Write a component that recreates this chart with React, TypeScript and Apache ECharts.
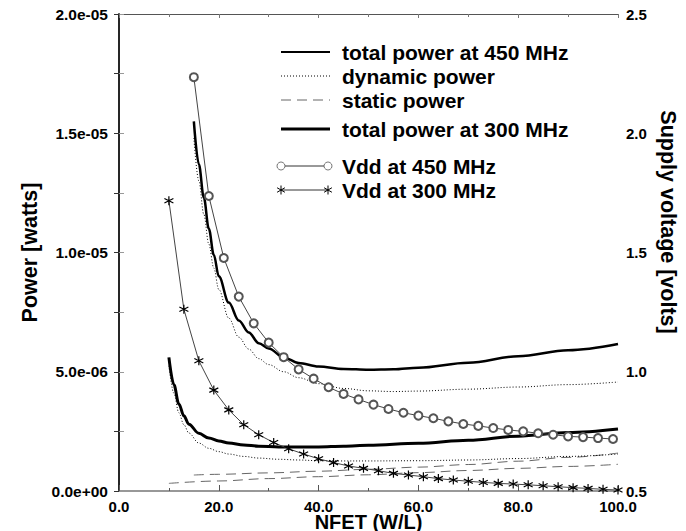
import React, { useEffect, useRef } from "react";
import * as echarts from "echarts";

// ---- Data (power values in units of 1e-6 W, voltages in V) ----
const x450 = [15, 16, 17, 18, 19, 20, 22, 24, 26, 28, 30, 33, 36, 40, 45, 50, 55, 60, 70, 80, 90, 100];
const total450 = [15.5, 13.7, 12.3, 11.0, 9.9, 9.0, 7.9, 7.15, 6.65, 6.2, 5.98, 5.6, 5.37, 5.22, 5.12, 5.08, 5.1, 5.17, 5.38, 5.65, 5.9, 6.16];
const dynamic450 = [14.8, 13.0, 11.6, 10.35, 9.35, 8.45, 7.25, 6.45, 5.95, 5.55, 5.3, 5.0, 4.75, 4.5, 4.3, 4.2, 4.17, 4.19, 4.27, 4.36, 4.46, 4.57];

const xStatic450 = [15, 20, 30, 40, 50, 60, 70, 80, 90, 100];
const static450 = [0.67, 0.7, 0.76, 0.83, 0.91, 1.0, 1.11, 1.25, 1.41, 1.59];

const x300 = [10, 11, 12, 13, 14, 16, 18, 20, 22, 25, 28, 32, 36, 40, 45, 50, 60, 70, 80, 90, 100];
const total300 = [5.6, 4.45, 3.65, 3.15, 2.8, 2.42, 2.22, 2.1, 2.01, 1.93, 1.88, 1.85, 1.84, 1.85, 1.88, 1.92, 2.0, 2.13, 2.3, 2.45, 2.6];
const dynamic300 = [5.25, 4.1, 3.28, 2.78, 2.43, 2.01, 1.79, 1.65, 1.55, 1.45, 1.38, 1.33, 1.3, 1.27, 1.26, 1.26, 1.27, 1.3, 1.36, 1.45, 1.55];

const xStatic300 = [10, 20, 30, 40, 50, 60, 70, 80, 90, 100];
const static300 = [0.32, 0.42, 0.52, 0.6, 0.68, 0.77, 0.86, 0.95, 1.03, 1.12];

const xVdd450 = [15, 18, 21, 24, 27, 30, 33, 36, 39, 42, 45, 48, 51, 54, 57, 60, 63, 66, 69, 72, 75, 78, 81, 84, 87, 90, 93, 96, 99];
const vdd450 = [2.235, 1.737, 1.477, 1.315, 1.203, 1.122, 1.061, 1.01, 0.971, 0.935, 0.907, 0.884, 0.862, 0.844, 0.828, 0.816, 0.805, 0.792, 0.781, 0.773, 0.764, 0.756, 0.75, 0.742, 0.736, 0.729, 0.726, 0.722, 0.718];

const xVdd300 = [10, 13, 16, 19, 22, 25, 28, 31, 34, 37, 40, 43, 46, 49, 52, 55, 58, 61, 64, 67, 70, 73, 76, 79, 82, 85, 88, 91, 94, 97, 100];
const vdd300 = [1.717, 1.262, 1.046, 0.923, 0.84, 0.778, 0.736, 0.703, 0.677, 0.655, 0.635, 0.619, 0.605, 0.595, 0.585, 0.574, 0.567, 0.56, 0.552, 0.546, 0.541, 0.536, 0.532, 0.529, 0.526, 0.522, 0.518, 0.514, 0.511, 0.507, 0.504];

const xTicks = { min: 0, max: 100, interval: 20 };
const powerTicks = { min: 0, max: 2e-5, interval: 5e-6 };
const voltTicks = { min: 0.5, max: 2.5, interval: 0.5 };

const legendLabels = [
  "total power at 450 MHz",
  "dynamic power",
  "static power",
  "total power at 300 MHz",
  "Vdd at 450 MHz",
  "Vdd at 300 MHz",
];

const FONT = "'Liberation Sans', Arial, Helvetica, sans-serif";

const pw = (xs: number[], ys: number[]) => xs.map((x, i) => [x, ys[i] * 1e-6]);
const pv = (xs: number[], ys: number[]) => xs.map((x, i) => [x, ys[i]]);

const expFmt = (v: number) => {
  const [m, e] = v.toExponential(1).split("e");
  const n = parseInt(e, 10);
  return m + "e" + (n < 0 ? "-" : "+") + String(Math.abs(n)).padStart(2, "0");
};

const STAR = "path://M5,0L5,10M0.67,2.5L9.33,7.5M0.67,7.5L9.33,2.5";

export default function App() {
  const ref = useRef<HTMLDivElement>(null);

  useEffect(() => {
    if (!ref.current) return;
    const chart = echarts.init(ref.current, undefined, { renderer: "svg" });

    const lx1 = 281;
    const lx2 = 330;
    const rows = [52, 76, 100, 129, 166, 190];
    const star = (cx: number, cy: number) =>
      [0, Math.PI / 3, -Math.PI / 3].map((a) => ({
        type: "line",
        shape: {
          x1: cx + 4.5 * Math.sin(a),
          y1: cy - 4.5 * Math.cos(a),
          x2: cx - 4.5 * Math.sin(a),
          y2: cy + 4.5 * Math.cos(a),
        },
        style: { stroke: "#000", lineWidth: 1 },
      }));

    const legendGraphics: any[] = [
      { type: "line", shape: { x1: lx1, y1: rows[0], x2: lx2, y2: rows[0] }, style: { stroke: "#000", lineWidth: 2 } },
      { type: "line", shape: { x1: lx1, y1: rows[1], x2: lx2, y2: rows[1] }, style: { stroke: "#000", lineWidth: 1, lineDash: [1, 2] } },
      { type: "line", shape: { x1: lx1, y1: rows[2], x2: lx2, y2: rows[2] }, style: { stroke: "#666", lineWidth: 1, lineDash: [10, 6] } },
      { type: "line", shape: { x1: lx1, y1: rows[3], x2: lx2, y2: rows[3] }, style: { stroke: "#000", lineWidth: 3 } },
      { type: "line", shape: { x1: lx1 + 4, y1: rows[4], x2: lx2 - 6, y2: rows[4] }, style: { stroke: "#333", lineWidth: 1 } },
      { type: "circle", shape: { cx: lx1, cy: rows[4], r: 4 }, style: { stroke: "#555", fill: "#fff", lineWidth: 0.8 } },
      { type: "circle", shape: { cx: lx2 - 2, cy: rows[4], r: 4 }, style: { stroke: "#555", fill: "#fff", lineWidth: 0.8 } },
      { type: "line", shape: { x1: lx1, y1: rows[5], x2: lx2 - 2, y2: rows[5] }, style: { stroke: "#333", lineWidth: 1 } },
      ...star(lx1, rows[5]),
      ...star(lx2 - 2, rows[5]),
      ...legendLabels.map((t, i) => ({
        type: "text",
        x: 342,
        y: rows[i],
        style: {
          text: t,
          fontFamily: FONT,
          fontSize: 21,
          fontWeight: "bold",
          fill: "#000",
          verticalAlign: "middle",
          align: "left",
        },
      })),
      {
        type: "text",
        x: 668,
        y: 222,
        rotation: -Math.PI / 2,
        style: {
          text: "Supply voltage [volts]",
          fontFamily: FONT,
          fontSize: 21.5,
          fontWeight: "bold",
          fill: "#000",
          align: "center",
          verticalAlign: "middle",
        },
      },
    ];

    const labelStyle = { fontFamily: FONT, fontSize: 15, fontWeight: "bold" as const, color: "#000" };
    const nameStyle = { fontFamily: FONT, fontSize: 20, fontWeight: "bold" as const, color: "#000" };

    const powerLine = (name: string, data: number[][], style: any) => ({
      name,
      type: "line",
      xAxisIndex: 0,
      yAxisIndex: 0,
      data,
      showSymbol: false,
      symbol: "none",
      smooth: 0.35,
      smoothMonotone: "x",
      lineStyle: style,
      z: 2,
    });

    chart.setOption({
      animation: false,
      backgroundColor: "#fff",
      grid: { left: 119, right: 68, top: 14, bottom: 40, containLabel: false, outerBoundsMode: "none" },
      xAxis: [
        {
          type: "value",
          position: "bottom",
          ...xTicks,
          name: "NFET (W/L)",
          nameLocation: "middle",
          nameGap: 21,
          nameMoveOverlap: false,
          nameTextStyle: nameStyle,
          axisLine: { show: true, lineStyle: { color: "#777", width: 1.5 } },
          axisTick: { show: true, inside: true, length: 6, lineStyle: { color: "#555" } },
          minorTick: { show: true, splitNumber: 2, length: 3, lineStyle: { color: "#555" } },
          axisLabel: { ...labelStyle, margin: 8, formatter: (v: number) => v.toFixed(1) },
          splitLine: { show: false },
        },
        {
          type: "value",
          position: "top",
          ...xTicks,
          axisLine: { show: true, lineStyle: { color: "#555", width: 1 } },
          axisTick: { show: true, inside: true, length: 4, lineStyle: { color: "#777" } },
          minorTick: { show: true, splitNumber: 2, length: 3, lineStyle: { color: "#777" } },
          axisLabel: { show: false },
          splitLine: { show: false },
        },
      ],
      yAxis: [
        {
          type: "value",
          position: "left",
          ...powerTicks,
          name: "Power [watts]",
          nameLocation: "middle",
          nameGap: 78,
          nameMoveOverlap: false,
          nameRotate: 90,
          nameTextStyle: { ...nameStyle, fontSize: 21.5 },
          axisLine: { show: true, lineStyle: { color: "#999", width: 2 } },
          axisTick: { show: true, inside: true, length: 5, lineStyle: { color: "#999" } },
          minorTick: { show: true, splitNumber: 2, length: 5, lineStyle: { color: "#999" } },
          axisLabel: { ...labelStyle, fontSize: 15.5, margin: 11, formatter: expFmt },
          splitLine: { show: false },
        },
        {
          type: "value",
          position: "right",
          ...voltTicks,
          axisLine: { show: true, lineStyle: { color: "#000", width: 1.5 } },
          axisTick: { show: true, inside: true, length: 5, lineStyle: { color: "#333" } },
          minorTick: { show: true, splitNumber: 2, length: 5, lineStyle: { color: "#333" } },
          axisLabel: { ...labelStyle, fontSize: 15, margin: 8, formatter: (v: number) => v.toFixed(1) },
          splitLine: { show: false },
        },
      ],
      graphic: legendGraphics,
      series: [
        powerLine("total power at 450 MHz", pw(x450, total450), { color: "#000", width: 2.5 }),
        powerLine("dynamic power (450 MHz)", pw(x450, dynamic450), { color: "#000", width: 1, type: [1, 2] }),
        powerLine("static power (450 MHz)", pw(xStatic450, static450), { color: "#666", width: 1, type: [10, 6] }),
        powerLine("total power at 300 MHz", pw(x300, total300), { color: "#000", width: 3 }),
        powerLine("dynamic power (300 MHz)", pw(x300, dynamic300), { color: "#000", width: 1, type: [1, 2] }),
        powerLine("static power (300 MHz)", pw(xStatic300, static300), { color: "#666", width: 1, type: [10, 6] }),
        {
          name: "Vdd at 450 MHz",
          type: "line",
          xAxisIndex: 0,
          yAxisIndex: 1,
          data: pv(xVdd450, vdd450),
          symbol: "emptyCircle",
          symbolSize: 8,
          showAllSymbol: true,
          lineStyle: { color: "#444", width: 1 },
          itemStyle: { color: "#555", borderColor: "#555", borderWidth: 0.8 },
          z: 3,
        },
        {
          name: "Vdd at 300 MHz",
          type: "line",
          xAxisIndex: 0,
          yAxisIndex: 1,
          data: pv(xVdd300, vdd300),
          symbol: STAR,
          symbolSize: 9,
          showAllSymbol: true,
          lineStyle: { color: "#444", width: 1 },
          itemStyle: { color: "rgba(0,0,0,0)", borderColor: "#000", borderWidth: 1.2 },
          z: 3,
        },
      ],
    });

    return () => chart.dispose();
  }, []);

  return (
    <div
      ref={ref}
      style={{ position: "fixed", left: 0, top: 0, width: 686, height: 531, background: "#fff" }}
    />
  );
}
